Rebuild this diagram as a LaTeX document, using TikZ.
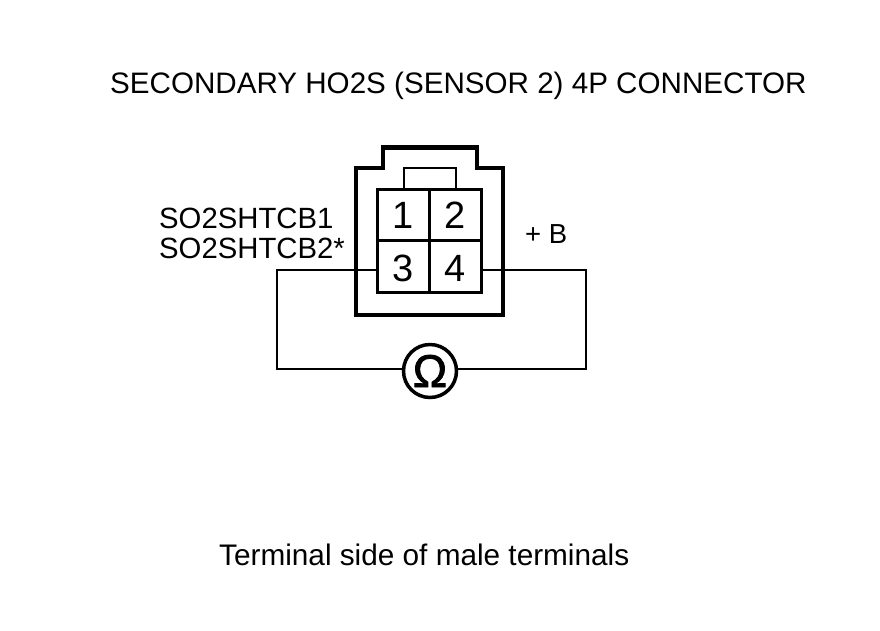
\documentclass[tikz,border=0pt]{standalone}
\usepackage{fontspec}
\setmainfont{Liberation Sans}
\newfontfamily\ohmfont[FakeBold=1.6]{Liberation Sans}
\tikzset{
  lbl/.style={inner sep=0pt,font=\fontsize{29.6}{32}\selectfont,anchor=base west},
  sidelbl/.style={inner sep=0pt,font=\fontsize{29.75}{32}\selectfont,anchor=base west},
  smalllbl/.style={inner sep=0pt,font=\fontsize{29.3}{30}\selectfont,anchor=base west},
  bplus/.style={inner sep=0pt,font=\fontsize{27.5}{30}\selectfont,anchor=base west},
  cell/.style={draw=black,line width=3pt,minimum width=52pt,minimum height=51.5pt,inner sep=0pt,font=\fontsize{38}{40}\selectfont,text depth=0pt,text height=27pt},
  lowcell/.style={cell,text height=30pt},
  wire/.style={draw=black,line width=2pt},
  shell/.style={draw=black,line width=4.5pt,miter limit=10},
  meter/.style={draw=black,line width=3.5pt,circle,minimum size=53pt,inner sep=0pt,fill=white,font=\fontsize{46}{48}\selectfont\ohmfont}
}
\begin{document}
\begin{tikzpicture}[x=1pt,y=-1pt]
\useasboundingbox[fill=white] (0,0) rectangle (880,630);
\node[lbl] (title) at (110,93) {SECONDARY HO2S (SENSOR 2) 4P CONNECTOR};
\node[sidelbl] (side) at (219,565) {Terminal side of male terminals};
\node[smalllbl] (sa) at (159,228) {SO2SHTCB1};
\node[smalllbl] (sb) at (159,258) {SO2SHTCB2*};
\node[bplus] (plusb) at (525,243) {+ B};
\draw[shell] (356,315) -- (356,168) -- (383,168) -- (383,147.5) -- (477,147.5) -- (477,168) -- (503,168) -- (503,315) -- cycle;
\node[cell] (t1) at (403.5,215) {1};
\node[cell] (t2) at (455.5,215) {2};
\node[lowcell] (t3) at (403.5,266.5) {3};
\node[lowcell] (t4) at (455.5,266.5) {4};
\draw[wire] (403.5,189) -- (403.5,168) -- (456,168) -- (456,189);
\node[meter] (ohm) at (430,371) {Ω};
\coordinate (lc) at (277,270);
\coordinate (lb) at (277,369);
\coordinate (rc) at (586,270);
\coordinate (rb) at (586,369);
\draw[wire] (t3.west|-lc) -- (lc) -- (lb) -- (ohm.west|-lb);
\draw[wire] (t4.east|-rc) -- (rc) -- (rb) -- (ohm.east|-rb);
\end{tikzpicture}
\end{document}
